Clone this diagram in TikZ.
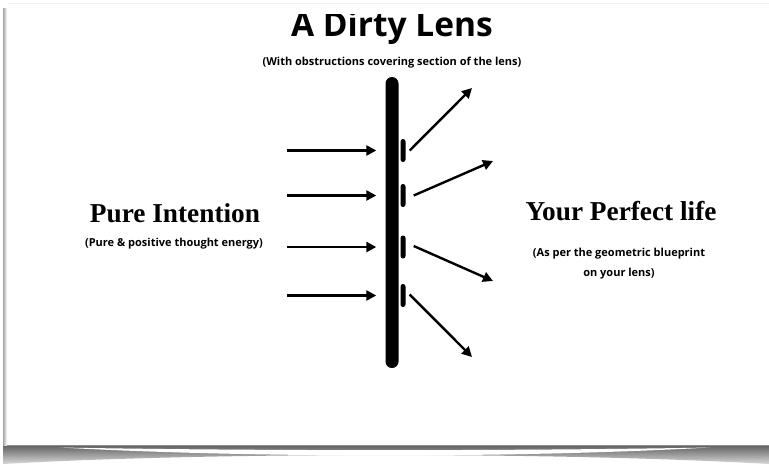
\documentclass[tikz,border=0pt]{standalone}
\usepackage{fontspec}
\setmainfont{Liberation Serif}
\newfontfamily\notefont{Open Sans}
\usetikzlibrary{arrows.meta,positioning,calc}

\tikzset{
  ray/.style={line width=2.4pt, -{Triangle[length=10pt,width=10pt]}},
  blob/.style={fill=black, minimum width=5pt, minimum height=23pt, rounded corners=2.5pt, inner sep=0pt},
  head/.style={font=\fontsize{27.3}{30}\selectfont\bfseries, inner sep=0pt},
  note/.style={font=\notefont\fontsize{11}{20}\selectfont\bfseries, align=center, inner sep=0pt},
}

\begin{document}
\begin{tikzpicture}[x=1pt,y=-1pt]
\useasboundingbox (0,0) rectangle (769,464);
% slide and its shadow
\fill[white] (0,0) rectangle (769,464);
\draw[black!6] (7,3) -- (769,3);
\shade[left color=black!35, right color=white] (3,8) rectangle (7,446);
\shade[top color=black!60, bottom color=black!15]
  (3,446) -- (769,446) -- (769,464) .. controls (560,452) and (210,452) .. (3,464) -- cycle;
\fill[white] (60,447.5) .. controls (250,451) and (520,451) .. (710,447.5)
  .. controls (520,458) and (250,458) .. (60,447.5);
\draw[black!45, line width=0.8pt] (7,445.5) -- (769,445.5);

% title, cut by the slide top
\begin{scope}
\clip (0,14) rectangle (769,60);
\node[font=\notefont\fontsize{33.5}{36}\selectfont\bfseries, anchor=base, inner sep=0pt] (title) at (392,36.5) {A Dirty Lens};
\end{scope}
\node[note, anchor=base] (sub) at (392,65) {(With obstructions covering section of the lens)};

% lens
\node[fill=black, minimum width=13pt, minimum height=291pt, rounded corners=6.5pt, inner sep=0pt] (lens) at (392,222.5) {};

\foreach \i/\y/\ex/\ey in {1/150.5/472/88, 2/195.5/493/161, 3/247/493/281, 4/295.5/472/357} {
  \node[blob] (obs\i) at (403,\y) {};
  \coordinate (in\i) at (287,\y);
  \coordinate (out\i) at (\ex,\ey);
  \draw[ray, shorten >=9pt] (in\i) -- (lens.west |- in\i);
}
\draw[ray] ($(obs1.east)+(4,0)$) -- (out1);
\draw[ray] ($(obs2.east)+(8,0)$) -- (out2);
\draw[ray] ($(obs3.east)+(8,-1)$) -- (out3);
\draw[ray] ($(obs4.east)+(4,-1)$) -- (out4);

% left side
\node[head, anchor=base] (pure) at (175,222) {Pure Intention};
\node[note, anchor=base] (puresub) at (174,246) {(Pure \& positive thought energy)};

% right side
\node[head, anchor=base] (life) at (621,220) {Your Perfect life};
\node[note, anchor=base] (lifesub) at (619,276) {(As per the geometric blueprint\\on your lens)};
\end{tikzpicture}
\end{document}
